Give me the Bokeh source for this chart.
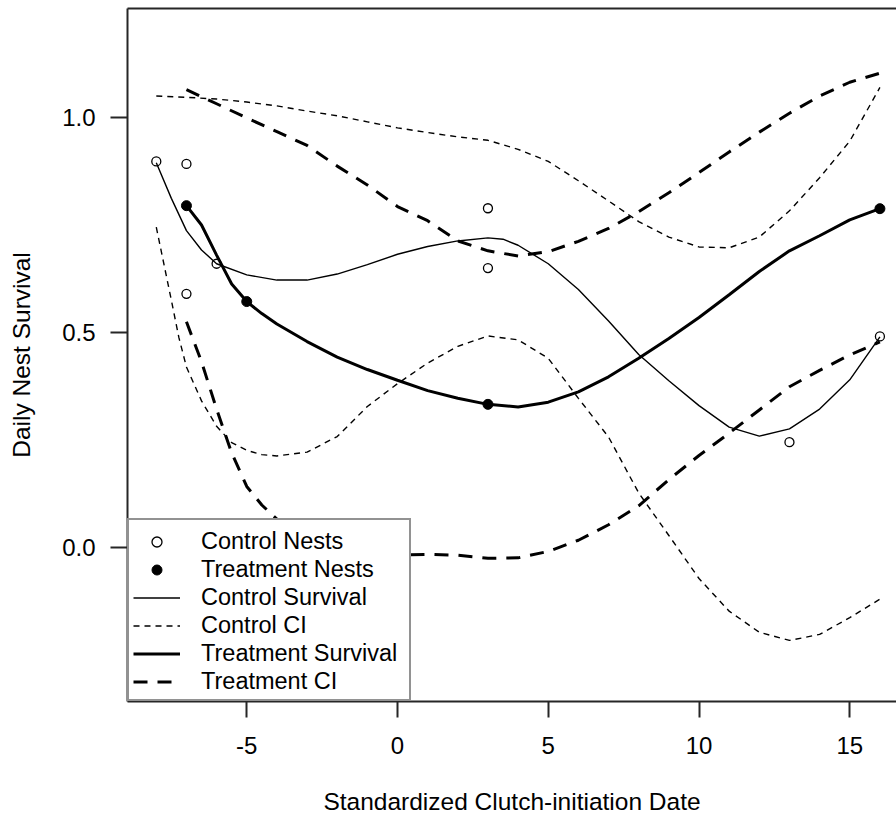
from bokeh.plotting import figure
from bokeh.models import Range1d, FixedTicker, LinearAxis, Legend, LegendItem
from bokeh.embed import file_html
from bokeh.resources import INLINE

# Observed daily nest survival
ctrl_nest_x = [-8, -7, -7, -6, 3, 3, 13, 16]
ctrl_nest_y = [0.898, 0.892, 0.590, 0.660, 0.789, 0.650, 0.245, 0.491]
treat_nest_x = [-7, -5, 3, 16]
treat_nest_y = [0.795, 0.572, 0.333, 0.788]

# Fitted control survival
ctrl_surv_x = [-8, -7.5, -7, -6.5, -6, -5, -4, -3, -2, -1, 0, 1, 2, 3, 3.5, 4,
               5, 6, 7, 8, 9, 10, 11, 12, 13, 14, 15, 16]
ctrl_surv_y = [0.895, 0.812, 0.737, 0.692, 0.660, 0.634, 0.622, 0.622, 0.636, 0.658,
               0.682, 0.700, 0.713, 0.720, 0.717, 0.703, 0.660, 0.600, 0.527, 0.449,
               0.388, 0.330, 0.280, 0.259, 0.276, 0.322, 0.390, 0.490]

# Control confidence band
ctrl_hi_x = [-8, -7, -6, -5, -4, -3, -2, -1, 0, 1, 2, 3, 4, 5, 6, 7, 8, 9, 10,
             11, 12, 13, 14, 15, 16]
ctrl_hi_y = [1.050, 1.047, 1.043, 1.036, 1.027, 1.015, 1.004, 0.990, 0.976, 0.965,
             0.955, 0.947, 0.926, 0.898, 0.853, 0.806, 0.758, 0.722, 0.699, 0.697,
             0.722, 0.783, 0.860, 0.945, 1.070]
ctrl_lo_x = [-8, -7.75, -7.5, -7.25, -7, -6.5, -6, -5.5, -5, -4.5, -4, -3, -2, -1,
             0, 1, 2, 3, 4, 5, 6, 7, 8, 9, 10, 11, 12, 13, 14, 15, 16]
ctrl_lo_y = [0.745, 0.660, 0.575, 0.488, 0.420, 0.341, 0.282, 0.244, 0.226, 0.216,
             0.213, 0.222, 0.258, 0.328, 0.381, 0.429, 0.468, 0.492, 0.483, 0.440,
             0.347, 0.257, 0.127, 0.028, -0.072, -0.148, -0.197, -0.216, -0.202,
             -0.163, -0.120]

# Fitted treatment survival
treat_surv_x = [-7, -6.5, -6, -5.5, -5, -4.5, -4, -3, -2, -1, 0, 1, 2, 3, 4, 5,
                6, 7, 8, 9, 10, 11, 12, 13, 14, 15, 16]
treat_surv_y = [0.795, 0.750, 0.680, 0.613, 0.572, 0.544, 0.520, 0.479, 0.443, 0.414,
                0.389, 0.365, 0.347, 0.333, 0.327, 0.338, 0.362, 0.397, 0.440, 0.486,
                0.535, 0.588, 0.642, 0.690, 0.725, 0.762, 0.788]

# Treatment confidence band
treat_hi_x = [-7, -6, -5, -4, -3, -2, -1, 0, 1, 2, 3, 4, 5, 6, 7, 8, 9, 10, 11,
              12, 13, 14, 15, 16]
treat_hi_y = [1.065, 1.032, 0.999, 0.967, 0.935, 0.887, 0.843, 0.793, 0.760, 0.713,
              0.690, 0.678, 0.688, 0.712, 0.742, 0.781, 0.825, 0.872, 0.920, 0.966,
              1.010, 1.050, 1.082, 1.103]
treat_lo_x = [-7, -6.5, -6, -5.5, -5, -4.5, -4, -3, -2, -1, 0, 1, 2, 3, 4, 5, 6,
              7, 8, 9, 10, 11, 12, 13, 14, 15, 16]
treat_lo_y = [0.525, 0.432, 0.322, 0.220, 0.142, 0.099, 0.066, 0.030, 0.006, -0.008,
              -0.017, -0.016, -0.018, -0.025, -0.024, -0.009, 0.017, 0.053, 0.097,
              0.158, 0.214, 0.266, 0.320, 0.374, 0.412, 0.448, 0.478]

x_ticks = [-5, 0, 5, 10, 15]
x_tick_labels = ["-5", "0", "5", "10", "15"]
y_ticks = [0.0, 0.5, 1.0]
y_tick_labels = ["0.0", "0.5", "1.0"]

FONT = "Liberation Sans"
FS = "24px"
FS_LEGEND = "23.5px"
FS_TITLE = "24.5px"
INK = "#000000"
FRAME = "#262626"

p = figure(width=896, height=819, output_backend="svg", toolbar_location=None,
           x_range=Range1d(-8.955, 16.55), y_range=Range1d(-0.358, 1.2535),
           min_border_left=127, min_border_right=0, min_border_top=8,
           min_border_bottom=118, outline_line_color=None,
           background_fill_color="white", border_fill_color="white")
p.grid.visible = False

# axes
p.xaxis.ticker = FixedTicker(ticks=x_ticks)
p.xaxis.major_label_overrides = {t: s for t, s in zip(x_ticks, x_tick_labels)}
p.yaxis.ticker = FixedTicker(ticks=y_ticks)
p.yaxis.major_label_overrides = {t: s for t, s in zip(y_ticks, y_tick_labels)}
p.xaxis.axis_label = "Standardized Clutch-initiation Date"
p.yaxis.axis_label = "Daily Nest Survival"
for ax in (p.xaxis[0], p.yaxis[0]):
    ax.axis_line_color = FRAME
    ax.axis_line_width = 2
    ax.major_tick_line_color = FRAME
    ax.major_tick_line_width = 2
    ax.major_tick_in = 0
    ax.minor_tick_line_color = None
    ax.major_label_text_font = FONT
    ax.major_label_text_font_size = FS
    ax.major_label_text_color = INK
    ax.axis_label_text_font = FONT
    ax.axis_label_text_font_size = FS_TITLE
    ax.axis_label_text_font_style = "normal"
    ax.axis_label_text_color = INK
p.xaxis.major_tick_out = 16
p.xaxis.major_label_standoff = 19
p.xaxis.axis_label_standoff = 31
p.yaxis.major_tick_out = 17
p.yaxis.major_label_standoff = 15
p.yaxis.axis_label_standoff = 24

# top edge of the box
top = LinearAxis(ticker=FixedTicker(ticks=[]), axis_line_color=FRAME, axis_line_width=2,
                 major_tick_out=0, major_tick_in=0, major_label_standoff=0,
                 minor_tick_line_color=None, major_label_text_font_size="0px")
p.add_layout(top, "above")

# curves
r_cs = p.line(ctrl_surv_x, ctrl_surv_y, line_color=INK, line_width=1.4)
r_chi = p.line(ctrl_hi_x, ctrl_hi_y, line_color=INK, line_width=1.4, line_dash="6 5")
p.line(ctrl_lo_x, ctrl_lo_y, line_color=INK, line_width=1.4, line_dash="6 5")
r_ts = p.line(treat_surv_x, treat_surv_y, line_color=INK, line_width=3)
r_thi = p.line(treat_hi_x, treat_hi_y, line_color=INK, line_width=3, line_dash="14 10")
p.line(treat_lo_x, treat_lo_y, line_color=INK, line_width=3, line_dash="14 10")

# points
r_cn = p.scatter(ctrl_nest_x, ctrl_nest_y, marker="circle", size=9, fill_color=None,
                 line_color=INK, line_width=1.3)
r_tn = p.scatter(treat_nest_x, treat_nest_y, marker="circle", size=10, fill_color=INK,
                 line_color=INK, line_width=1)

legend = Legend(items=[
    LegendItem(label="Control Nests", renderers=[r_cn]),
    LegendItem(label="Treatment Nests", renderers=[r_tn]),
    LegendItem(label="Control Survival", renderers=[r_cs]),
    LegendItem(label="Control CI", renderers=[r_chi]),
    LegendItem(label="Treatment Survival", renderers=[r_ts]),
    LegendItem(label="Treatment CI", renderers=[r_thi]),
], location="bottom_left", margin=0, padding=4, spacing=1,
    title=" ", title_text_font_size="3px", title_standoff=0,
    glyph_width=47, glyph_height=25, label_height=25, label_width=204,
    label_standoff=21, label_text_font=FONT, label_text_font_size=FS_LEGEND,
    label_text_color=INK, border_line_color=FRAME, border_line_width=2,
    background_fill_color="white", background_fill_alpha=1.0)
p.add_layout(legend)

open("out.html", "w").write(file_html(p, INLINE))
